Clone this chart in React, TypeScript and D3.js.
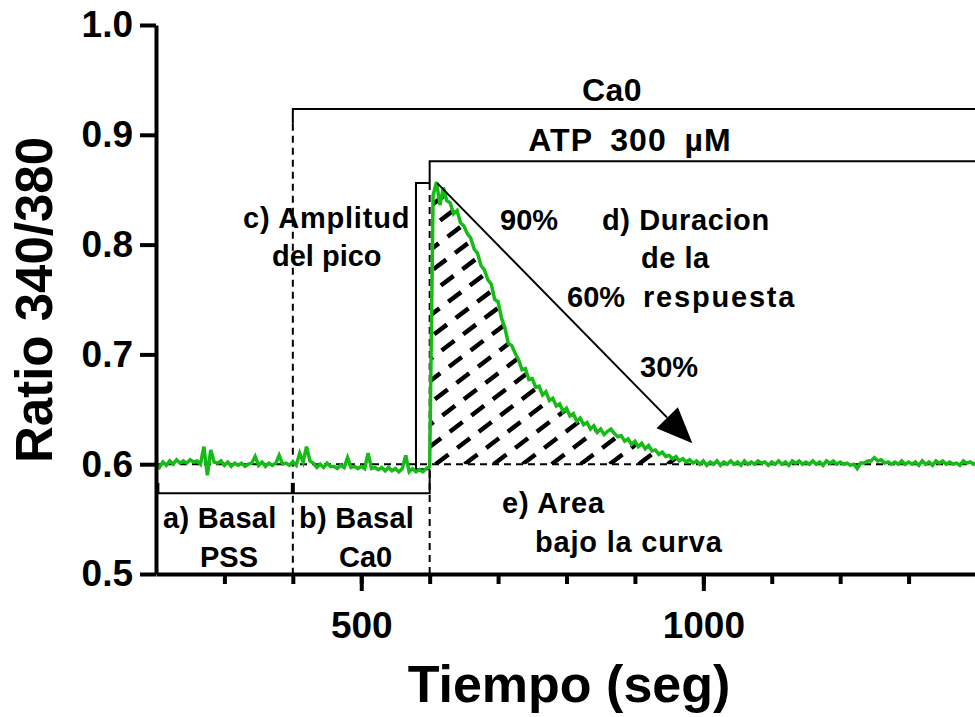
import React, { useEffect, useRef } from 'react';
import * as d3 from 'd3';

// Fura-2 ratio trace, one sample every 5 s from t = 200 s
const tStart = 200;
const tStep = 5;
const ratio = [
  0.600, 0.597, 0.602, 0.599, 0.603, 0.600, 0.604, 0.601, 0.603, 0.601, 0.604, 0.602, 0.603, 0.600, 0.616, 0.590, 0.613, 0.602, 0.601, 0.603,
  0.599, 0.602, 0.598, 0.601, 0.599, 0.601, 0.598, 0.600, 0.601, 0.607, 0.599, 0.602, 0.598, 0.601, 0.599, 0.601, 0.608, 0.600, 0.601, 0.599,
  0.602, 0.599, 0.610, 0.602, 0.616, 0.603, 0.601, 0.597, 0.600, 0.597, 0.601, 0.598, 0.598, 0.596, 0.599, 0.597, 0.606, 0.597, 0.598, 0.596,
  0.598, 0.596, 0.610, 0.596, 0.597, 0.595, 0.597, 0.594, 0.597, 0.594, 0.596, 0.593, 0.596, 0.608, 0.593, 0.596, 0.593, 0.595, 0.593, 0.596,
  0.598, 0.845, 0.857, 0.836, 0.852, 0.840, 0.838, 0.828, 0.831, 0.820, 0.817, 0.810, 0.806, 0.796, 0.792, 0.781, 0.777, 0.768, 0.764, 0.750,
  0.748, 0.733, 0.724, 0.710, 0.708, 0.701, 0.695, 0.686, 0.687, 0.677, 0.678, 0.670, 0.671, 0.663, 0.666, 0.658, 0.660, 0.653, 0.655, 0.648,
  0.651, 0.644, 0.646, 0.639, 0.642, 0.636, 0.638, 0.632, 0.635, 0.629, 0.632, 0.627, 0.630, 0.632, 0.628, 0.625, 0.626, 0.621, 0.623, 0.618,
  0.621, 0.616, 0.619, 0.614, 0.617, 0.612, 0.613, 0.609, 0.611, 0.607, 0.608, 0.605, 0.607, 0.603, 0.605, 0.602, 0.604, 0.601, 0.603, 0.600,
  0.603, 0.599, 0.602, 0.600, 0.603, 0.599, 0.602, 0.600, 0.603, 0.600, 0.602, 0.599, 0.603, 0.600, 0.602, 0.600, 0.603, 0.601, 0.602, 0.599,
  0.602, 0.600, 0.603, 0.600, 0.602, 0.599, 0.603, 0.601, 0.603, 0.600, 0.602, 0.600, 0.603, 0.600, 0.602, 0.599, 0.603, 0.601, 0.603, 0.600,
  0.602, 0.600, 0.601, 0.599, 0.600, 0.596, 0.601, 0.601, 0.603, 0.603, 0.606, 0.603, 0.604, 0.601, 0.602, 0.600, 0.602, 0.600, 0.603, 0.600,
  0.602, 0.600, 0.602, 0.599, 0.603, 0.600, 0.602, 0.599, 0.603, 0.601, 0.603, 0.600, 0.602, 0.600, 0.601, 0.599, 0.603, 0.601, 0.602, 0.600,
  0.602,
];

const xDomain = [200, 1400];
const yDomain = [0.5, 1.0];
const xMinorTicks = [300, 400, 500, 600, 700, 800, 900, 1000, 1100, 1200, 1300, 1400];
const xMajorTicks = [500, 1000];
const yTicks = [0.5, 0.6, 0.7, 0.8, 0.9, 1.0];

// protocol marks (time s / ratio)
const baseline = 0.6;
const caOnset = 400;
const atpOnset = 600;
const caBarLevel = 0.9235;
const atpBarLevel = 0.876;
const peak = 0.856;
const peakFoot = 0.5955;
const ampBracketT = 580;
const basalBarLevel = 0.5735;
const basalTickTop = 0.583;
const areaEnd = 1000;
const arrowFrom = [611, 0.856];
const arrowTo = [984, 0.619];

const annotations = [
  { text: 'Ca0', px: [612, 101], anchor: 'middle', size: 32, ls: 0.5, ws: 0 },
  { text: 'ATP 300 \u00b5M', px: [630, 151], anchor: 'middle', size: 32, ls: 1, ws: 8 },
  { text: 'c) Amplitud', px: [243, 228], anchor: 'start', size: 29, ls: 0.8, ws: 0 },
  { text: 'del pico', px: [272, 266], anchor: 'start', size: 29, ls: 0, ws: 0 },
  { text: '90%', px: [500, 230], anchor: 'start', size: 29, ls: 0, ws: 0 },
  { text: 'd) Duracion', px: [602, 230], anchor: 'start', size: 29, ls: 0.6, ws: 0 },
  { text: 'de la', px: [641, 268], anchor: 'start', size: 29, ls: 0.5, ws: 0 },
  { text: 'respuesta', px: [643, 307], anchor: 'start', size: 29, ls: 1.8, ws: 0 },
  { text: '60%', px: [567, 307], anchor: 'start', size: 29, ls: 0, ws: 0 },
  { text: '30%', px: [640, 377], anchor: 'start', size: 29, ls: 0, ws: 0 },
  { text: 'a) Basal', px: [163, 528], anchor: 'start', size: 29, ls: 0.3, ws: 0 },
  { text: 'PSS', px: [200, 567], anchor: 'start', size: 29, ls: 0, ws: 0 },
  { text: 'b) Basal', px: [299, 528], anchor: 'start', size: 29, ls: 0.3, ws: 0 },
  { text: 'Ca0', px: [339, 567], anchor: 'start', size: 29, ls: 0, ws: 0 },
  { text: 'e) Area', px: [502, 513], anchor: 'start', size: 29, ls: 0.8, ws: 0 },
  { text: 'bajo la curva', px: [535, 552], anchor: 'start', size: 29, ls: 0.8, ws: 0 },
];

const FONT = '"Liberation Sans", Arial, sans-serif';

const App = () => {
  const ref = useRef(null);

  useEffect(() => {
    const svg = d3.select(ref.current);
    svg.selectAll('*').remove();

    const x = d3.scaleLinear().domain(xDomain).range([156, 977]);
    const y = d3.scaleLinear().domain(yDomain).range([574, 25]);
    const pts = ratio.map((v, i) => ({ t: tStart + i * tStep, v }));

    // hatched area under the response
    const areaPts = pts.filter(d => d.t >= atpOnset && d.t <= areaEnd);
    const area = d3.area()
      .x(d => x(d.t))
      .y0(y(baseline))
      .y1(d => y(Math.max(d.v, baseline)));
    svg.append('clipPath').attr('id', 'auc')
      .append('path').attr('d', area(areaPts));

    const hatch = svg.append('g').attr('clip-path', 'url(#auc)');
    const ang = (37 * Math.PI) / 180;
    const len = 600;
    for (let hx = x(atpOnset) - 400; hx < x(areaEnd) + 20; hx += 29) {
      hatch.append('line')
        .attr('x1', hx).attr('y1', y(baseline))
        .attr('x2', hx + len * Math.cos(ang)).attr('y2', y(baseline) - len * Math.sin(ang))
        .attr('stroke', '#000').attr('stroke-width', 4.5)
        .attr('stroke-dasharray', '16 11');
    }

    const line = (pairs, dash, w = 2) => {
      svg.append('path')
        .attr('d', d3.line()(pairs.map(([t, v]) => [x(t), y(v)])))
        .attr('fill', 'none').attr('stroke', '#000').attr('stroke-width', w)
        .attr('stroke-dasharray', dash || null);
    };

    // dashed guides
    line([[xDomain[0], baseline], [xDomain[1], baseline]], '7 5');
    line([[caOnset, 0.91], [caOnset, yDomain[0]]], '7 5');
    line([[atpOnset, peak], [atpOnset, yDomain[0]]], '7 5');

    // treatment bars
    line([[caOnset, 0.91], [caOnset, caBarLevel], [xDomain[1], caBarLevel]]);
    line([[atpOnset, peak], [atpOnset, atpBarLevel], [xDomain[1], atpBarLevel]]);

    // amplitude bracket
    line([[atpOnset, peak], [ampBracketT, peak], [ampBracketT, peakFoot], [atpOnset, peakFoot]]);

    // basal brackets
    line([[xDomain[0] + 2, basalBarLevel], [caOnset, basalBarLevel]]);
    line([[caOnset, basalBarLevel], [atpOnset, basalBarLevel], [atpOnset, peakFoot]]);
    line([[xDomain[0] + 2, basalBarLevel], [xDomain[0] + 2, basalTickTop]], null, 4);
    line([[caOnset, basalBarLevel], [caOnset, basalTickTop]], null, 4);

    // trace
    svg.append('path')
      .attr('d', d3.line().x(d => x(d.t)).y(d => y(d.v))(pts))
      .attr('fill', 'none').attr('stroke', '#17bb17').attr('stroke-width', 3.5)
      .attr('stroke-linejoin', 'miter');

    // duration arrow
    const ax1 = x(arrowFrom[0]), ay1 = y(arrowFrom[1]);
    const ax2 = x(arrowTo[0]), ay2 = y(arrowTo[1]);
    const dx = ax2 - ax1, dy = ay2 - ay1;
    const L = Math.hypot(dx, dy);
    const ux = dx / L, uy = dy / L;
    const headLen = 36, headHalf = 15;
    const bx = ax2 - ux * headLen, by = ay2 - uy * headLen;
    svg.append('line')
      .attr('x1', ax1).attr('y1', ay1).attr('x2', bx).attr('y2', by)
      .attr('stroke', '#000').attr('stroke-width', 2);
    svg.append('path')
      .attr('d', `M${ax2},${ay2}L${bx - uy * headHalf},${by + ux * headHalf}L${bx + uy * headHalf},${by - ux * headHalf}Z`)
      .attr('fill', '#000');

    // axes
    const styleAxis = g => {
      g.selectAll('.domain').attr('stroke-width', 4);
      g.selectAll('.tick line').attr('stroke-width', 4);
      g.selectAll('text')
        .attr('font-family', FONT).attr('font-weight', 'bold').attr('fill', '#000');
    };

    svg.append('g')
      .attr('transform', `translate(0,${y(yDomain[0])})`)
      .call(d3.axisBottom(x).tickValues(xMinorTicks).tickSize(10).tickSizeOuter(0).tickFormat(() => ''))
      .call(styleAxis);
    svg.append('g')
      .attr('transform', `translate(0,${y(yDomain[0])})`)
      .call(d3.axisBottom(x).tickValues(xMajorTicks).tickSize(17).tickSizeOuter(0).tickPadding(21).tickFormat(d3.format('d')))
      .call(styleAxis)
      .call(g => g.select('.domain').remove())
      .selectAll('text').attr('font-size', 37);

    svg.append('g')
      .attr('transform', `translate(${x(xDomain[0])},0)`)
      .call(d3.axisLeft(y).tickValues(yTicks).tickSize(16).tickSizeOuter(0).tickPadding(7).tickFormat(d3.format('.1f')))
      .call(styleAxis)
      .selectAll('text').attr('font-size', 37);

    // axis titles
    svg.append('text')
      .attr('transform', 'translate(52,300) rotate(-90)')
      .attr('text-anchor', 'middle')
      .attr('font-family', FONT).attr('font-weight', 'bold').attr('font-size', 51)
      .text('Ratio 340/380');
    svg.append('text')
      .attr('x', 569).attr('y', 702)
      .attr('text-anchor', 'middle')
      .attr('font-family', FONT).attr('font-weight', 'bold').attr('font-size', 52)
      .text('Tiempo (seg)');

    // annotations
    svg.append('g').selectAll('text')
      .data(annotations)
      .join('text')
      .attr('x', d => d.px[0]).attr('y', d => d.px[1])
      .attr('text-anchor', d => d.anchor)
      .attr('font-family', FONT).attr('font-weight', 'bold')
      .attr('font-size', d => d.size)
      .attr('letter-spacing', d => d.ls)
      .attr('word-spacing', d => d.ws)
      .text(d => d.text);
  }, []);

  return (
    <svg
      ref={ref}
      width={975}
      height={717}
      style={{ position: 'absolute', left: 0, top: 0, background: '#fff' }}
    />
  );
};

export default App;
